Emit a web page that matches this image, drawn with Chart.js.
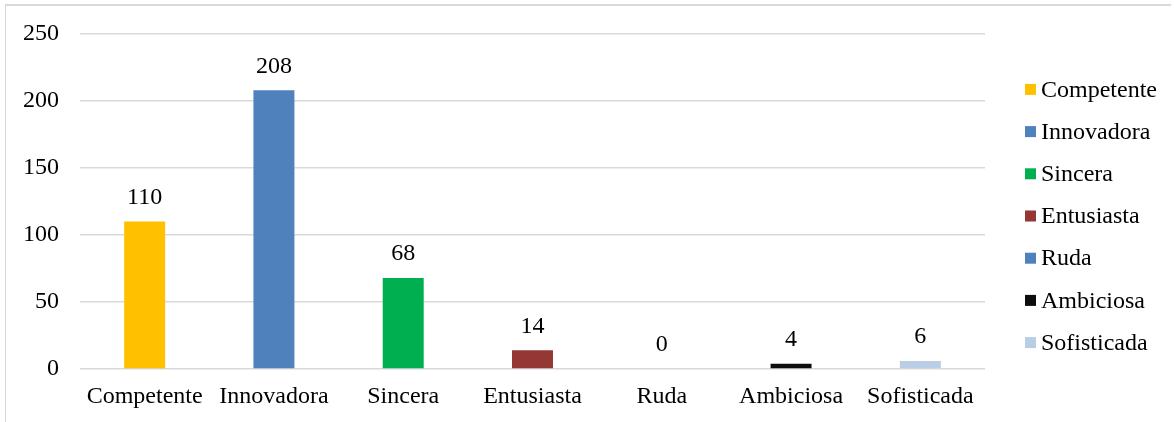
<!DOCTYPE html>
<html>
<head>
<meta charset="utf-8">
<script src="https://cdn.jsdelivr.net/npm/chart.js@4"></script>
<style>
  html, body { margin: 0; padding: 0; background: #fff; overflow: hidden; }
  #frame {
    position: absolute; left: 5px; top: 4px;
    width: 1165px; height: 420px;
    border-left: 1px solid #d9d9d9; border-top: 2px solid #d9d9d9;
  }
  #chart { display: block; }
</style>
</head>
<body>
<div id="frame"><canvas id="chart" width="1165" height="414"></canvas></div>
<script>
const categories = ['Competente', 'Innovadora', 'Sincera', 'Entusiasta', 'Ruda', 'Ambiciosa', 'Sofisticada'];
const values = [110, 208, 68, 14, 0, 4, 6];
const barColors = ['#FFC000', '#4F81BD', '#00B050', '#953735', '#4F81BD', '#0D0D0D', '#B9CDE5'];
const yTicks = [0, 50, 100, 150, 200, 250];

const FONT = '"Liberation Serif", "Times New Roman", serif';
const TEXT = '#000000';
const SIZE = 24;

// numbers above each bar
const valueLabels = {
  id: 'valueLabels',
  afterDatasetsDraw(chart) {
    const ctx = chart.ctx;
    const meta = chart.getDatasetMeta(0);
    ctx.save();
    ctx.font = `${SIZE}px ${FONT}`;
    ctx.fillStyle = TEXT;
    ctx.textAlign = 'center';
    ctx.textBaseline = 'middle';
    meta.data.forEach((bar, i) => {
      ctx.fillText(String(values[i]), bar.x, bar.y - 24);
    });
    ctx.restore();
  }
};

// Excel style legend: small square, short gap, one entry per category
const sideLegend = {
  id: 'sideLegend',
  afterDraw(chart) {
    const ctx = chart.ctx;
    const left = chart.chartArea.right + 40;
    const step = 42.2;
    const firstY = 83.4;
    ctx.save();
    ctx.font = `${SIZE}px ${FONT}`;
    ctx.textBaseline = 'middle';
    ctx.textAlign = 'left';
    categories.forEach((name, i) => {
      const y = firstY + i * step;
      ctx.fillStyle = barColors[i];
      ctx.fillRect(left, y - 5.5, 11, 11);
      ctx.fillStyle = TEXT;
      ctx.fillText(name, left + 16, y + 1);
    });
    ctx.restore();
  }
};

new Chart(document.getElementById('chart'), {
  type: 'bar',
  data: {
    labels: categories,
    datasets: [{
      data: values,
      backgroundColor: barColors,
      borderWidth: 0,
      barPercentage: 0.317,
      categoryPercentage: 1,
    }],
  },
  options: {
    responsive: false,
    animation: false,
    layout: { padding: { left: 0, right: 186, top: 28, bottom: 0 } },
    plugins: {
      legend: { display: false },
      tooltip: { enabled: false },
    },
    scales: {
      x: {
        afterFit: scale => { scale.height = 51; scale.paddingLeft = 0; scale.paddingRight = 0; },
        grid: { display: false, drawTicks: false },
        border: { display: false },
        ticks: { color: TEXT, font: { family: FONT, size: SIZE }, padding: 13, maxRotation: 0 },
      },
      y: {
        min: 0,
        max: 250,
        afterFit: scale => { scale.width = 74; scale.paddingTop = 0; scale.paddingBottom = 0; },
        afterBuildTicks: scale => { scale.ticks = yTicks.map(value => ({ value })); },
        grid: { color: '#d9d9d9', lineWidth: 1.5, drawTicks: false },
        border: { display: false },
        ticks: { color: TEXT, font: { family: FONT, size: SIZE }, padding: 21 },
      },
    },
  },
  plugins: [valueLabels, sideLegend],
});
</script>
</body>
</html>
